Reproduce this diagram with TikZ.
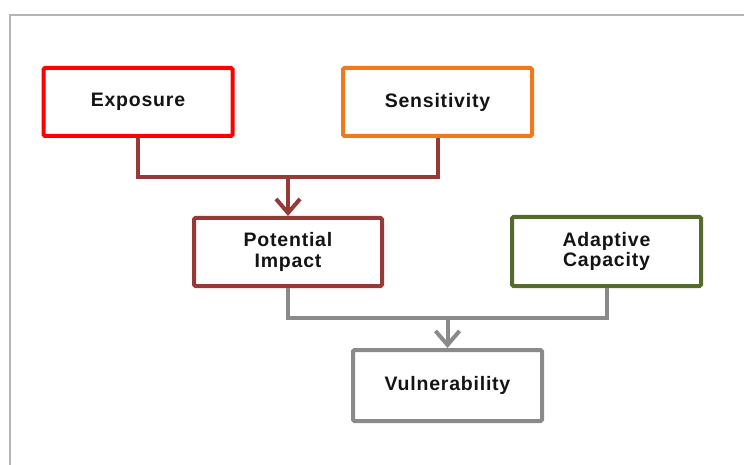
\documentclass[tikz,border=0pt]{standalone}
\usepackage{fontspec}
\setmainfont{Liberation Sans}
\newfontfamily\boxfont[LetterSpace=4]{Liberation Sans}
\usetikzlibrary{arrows.meta}
\definecolor{cexp}{HTML}{FF0000}
\definecolor{csens}{HTML}{EE7A1C}
\definecolor{cdred}{HTML}{963A38}
\definecolor{colive}{HTML}{556B2A}
\definecolor{cgray}{HTML}{8A8A8A}
\definecolor{cframe}{HTML}{B4B4B4}
\definecolor{ctext}{HTML}{141414}
\tikzset{
  box/.style={draw, line width=4pt, rectangle, rounded corners=1.5pt, fill=white,
    minimum width=189pt, minimum height=68pt, inner sep=0pt, align=center,
    text=ctext, font=\boxfont\fontsize{19.5}{20.5}\selectfont\bfseries},
  conn/.style={line width=4pt},
  tip/.style={-{Straight Barb[length=14pt,width=24pt]}}
}
\begin{document}
\begin{tikzpicture}[x=1pt,y=-1pt]
\useasboundingbox (0,0) rectangle (744,465);
\fill[white] (0,0) rectangle (744,465);
\draw[cframe, line width=2pt] (10,470) -- (10,15) -- (750,15);

\node[box, draw=cexp] (exp) at (138,102) {Exposure};
\node[box, draw=csens] (sens) at (437.5,102) {Sensitivity};
\node[box, draw=cdred, minimum width=188pt] (pi) at (288,252) {Potential\\Impact};
\node[box, draw=colive, minimum height=69pt] (ac) at (606.5,251.5) {Adaptive\\Capacity};
\node[box, draw=cgray, minimum height=71pt] (vul) at (447.5,385.5) {Vulnerability};

\coordinate (j1) at (288,177);
\coordinate (j2) at (447.5,318);

\draw[conn, cdred] (exp.south) |- (j1) -| (sens.south);
\draw[conn, cdred, tip] (j1) -- (pi.north);
\draw[conn, cgray] (pi.south) |- (j2) -| (ac.south);
\draw[conn, cgray, tip] (j2) -- (vul.north);
\end{tikzpicture}
\end{document}
